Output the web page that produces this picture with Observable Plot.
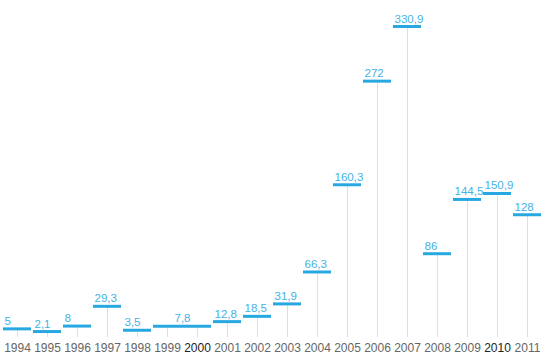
<!DOCTYPE html>
<html>
<head>
<meta charset="utf-8">
<script src="https://cdn.jsdelivr.net/npm/d3@7"></script>
<script src="https://cdn.jsdelivr.net/npm/@observablehq/plot@0.6"></script>
<style>
  html, body { margin: 0; padding: 0; background: #fff; }
  #chart svg { display: block; }
</style>
</head>
<body>
<div id="chart"></div>
<script>
// Years shown on the axis
const years = [1994, 1995, 1996, 1997, 1998, 1999, 2000, 2001, 2002, 2003, 2004, 2005, 2006, 2007, 2008, 2009, 2010, 2011];
// Value for each year (1999 and 2000 share one period value)
const yearValues = [5, 2.1, 8, 29.3, 3.5, 7.8, 7.8, 12.8, 18.5, 31.9, 66.3, 160.3, 272, 330.9, 86, 144.5, 150.9, 128];
// Labelled segments: start year, end year, value
const segFrom  = [1994, 1995, 1996, 1997, 1998, 1999, 2001, 2002, 2003, 2004, 2005, 2006, 2007, 2008, 2009, 2010, 2011];
const segTo    = [1994, 1995, 1996, 1997, 1998, 2000, 2001, 2002, 2003, 2004, 2005, 2006, 2007, 2008, 2009, 2010, 2011];
const segValue = [5, 2.1, 8, 29.3, 3.5, 7.8, 12.8, 18.5, 31.9, 66.3, 160.3, 272, 330.9, 86, 144.5, 150.9, 128];
// Years highlighted in darker text on the axis
const highlightYears = [2000, 2010];

const fmt = v => String(v).replace(".", ",");

const yearData = years.map((y, i) => ({year: y, value: yearValues[i]}));
const segs = segFrom.map((f, i) => ({from: f, to: segTo[i], value: segValue[i], label: fmt(segValue[i])}));
const singleSegs = segs.filter(s => s.from === s.to);
const multiSegs = segs.filter(s => s.from !== s.to);

const FONT = '"Liberation Sans Narrow", "Arial Narrow", "Liberation Sans", Arial, sans-serif';
const BLUE = "#27a8e0";
const LABEL_BLUE = "#45b2e4";

const chart = Plot.plot({
  width: 552,
  height: 359,
  marginTop: 26,
  marginBottom: 26,
  marginLeft: 2,
  marginRight: 10,
  style: {fontFamily: FONT, background: "#fff"},
  x: {type: "band", domain: years, paddingInner: 0.07, paddingOuter: 0.035, axis: null},
  y: {domain: [0, 330.9], axis: null},
  marks: [
    Plot.ruleX(yearData, {x: "year", y1: "value", y2: () => 0, stroke: "#dedede", strokeWidth: 1, insetBottom: -4}),
    Plot.ruleY(segs, {x1: "from", x2: "to", y: "value", stroke: BLUE, strokeWidth: 3}),
    Plot.text(singleSegs, {x: "from", y: "value", text: "label", textAnchor: "start", lineAnchor: "bottom", dx: -13, dy: -4, fill: LABEL_BLUE, fontSize: 11.5}),
    Plot.text(multiSegs, {x: "from", y: "value", text: "label", textAnchor: "middle", lineAnchor: "bottom", dx: 15, dy: -4, fill: LABEL_BLUE, fontSize: 11.5}),
    Plot.text(years, {x: d => d, text: d => String(d), frameAnchor: "bottom", lineAnchor: "top", dy: 10,
      fill: d => highlightYears.includes(d) ? "#222" : "#666", fontSize: 12})
  ]
});
document.getElementById("chart").appendChild(chart);
</script>
</body>
</html>
